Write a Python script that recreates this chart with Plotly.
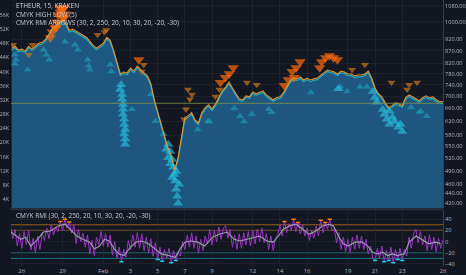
import plotly.graph_objects as go

# ---------------- data ----------------
# ETHEUR close, 6-hour samples; day 0 = 2018-01-26 00:00
price_start_day = -0.75
price_step_day = 0.25
price = [875, 883, 867, 871, 863, 883, 871, 883, 896, 900,
         913, 936, 962, 972, 990, 1000, 986, 953, 958, 949,
         940, 931, 922, 905, 887, 875, 887, 896, 922, 909,
         867, 822, 773, 780, 777, 795, 784, 803, 788, 777,
         766, 737, 683, 645, 611, 570, 543, 523, 488, 517,
         570, 627, 633, 642, 620, 611, 642, 658, 667, 654,
         669, 693, 713, 726, 744, 723, 703, 686, 683, 696,
         693, 709, 703, 709, 713, 699, 690, 683, 690, 693,
         706, 726, 748, 758, 755, 762, 751, 758, 751, 755,
         758, 769, 780, 788, 784, 780, 773, 784, 780, 773,
         773, 766, 769, 769, 773, 784, 758, 723, 703, 693,
         673, 658, 664, 673, 670, 664, 690, 699, 693, 686,
         680, 690, 696, 690, 693, 683, 677, 676.72]
price_day = [price_start_day + i * price_step_day for i in range(len(price))]

# RMI arrows (sell = down, buy = up)
sell_strong_day = [2.46, 2.60, 2.68, 2.82, 2.97, 3.04, 3.18, 2.24, 2.10, 2.53, 3.11, 2.82, 3.11,
                   8.61, 19.90, 20.19, 20.48, 20.04, 19.61, 19.32,
                   22.07, 22.36, 22.65, 22.94, 23.23, 21.92, 14.62, 14.98, 15.27, 15.56]
sell_strong_price = [972, 1000, 1034, 1049, 1059, 1019, 1039, 953, 927, 972, 1069, 1069, 1019,
                     834, 788, 803, 826, 766, 758, 737,
                     826, 842, 850, 842, 834, 803, 748, 766, 780, 803]
sell_weak_day = [-0.65, 0.80, 5.57, 6.08, 6.22, 8.97, 8.83, 12.23, 12.37, 12.08, 11.94, 12.52,
                 16.57, 17.29, 24.31, 25.25, 27.21, 28.36, 28.51, 29.09, 14.25, 14.54, 0.51]
sell_weak_price = [896, 896, 940, 953, 962, 814, 788, 723, 690, 658, 627, 706,
                   748, 740, 795, 814, 748, 723, 740, 748, 699, 723, 854]
buy_strong_day = [10.78, 10.93, 11.07, 11.14, 11.22, 11.29, 11.36, 11.43, 11.50, 10.93, 11.07, 10.78,
                  11.36, 11.58, 10.64,
                  7.31, 7.38, 7.45, 7.45, 7.53, 7.53, 7.60, 7.24, 7.38, 7.45, 7.53, 7.60, 7.60,
                  25.83, 25.98, 26.12, 26.56, 26.70, 26.85, 27.06, 27.28, 27.42, 27.71, 27.86,
                  28.00, 27.06, 23.30]
buy_strong_price = [556, 537, 517, 498, 481, 466, 448, 433, 419, 506, 474, 522,
                    488, 459, 543,
                    740, 706, 673, 642, 611, 584, 556, 723, 690, 658, 627, 597, 570,
                    716, 696, 680, 657, 642, 627, 612, 633, 620, 603, 612,
                    591, 651, 726]
buy_weak_day = [-0.51, -0.43, -0.51, 0.43, 1.59, 1.81, 2.03, 3.18, 3.91, 4.12, 4.85, 4.92, 4.99,
                6.51, 6.58, 8.10, 9.48, 9.84, 10.42, 12.95, 13.68, 13.82, 15.63, 16.06,
                16.35, 16.93, 18.16, 18.38, 21.27, 23.45, 23.95, 24.89, 25.40, 29.23,
                29.81, 28.65, 29.38]
buy_weak_price = [854, 834, 818, 795, 875, 854, 834, 909, 896, 875, 834, 810, 795,
                  814, 788, 658, 706, 621, 584, 597, 620, 620, 661, 636,
                  620, 642, 658, 648, 713, 733, 716, 733, 733, 648,
                  636, 663, 651]

# CMYK RMI raw (4-hour samples) and its signal line
rmi_start_day = -5 / 6
rmi_step_day = 1 / 6
rmi = [28, 5, 22, -8, 14,
       -12, 18, -5, 20, -15, 6,
       -20, 10, -14, 16, 2, 24,
       5, 30, 12, 26, 18, 36,
       20, 40, 24, 35, 15, 30,
       -4, 22, 0, 15, -10, 12,
       -22, 2, -25, 8, -6, 18,
       -8, 14, -10, 12, -24, 0,
       -30, -10, -36, -14, -28, 2,
       -15, 12, -10, 16, -12, 14,
       -16, 8, -20, 5, -26, -2,
       -32, -10, -35, -14, -30, -12,
       -38, -16, -34, -20, -26, 0,
       -14, 12, -10, 16, -12, 10,
       -20, 4, -16, 10, -4, 22,
       -6, 20, 0, 26, 4, 24,
       28, 6, 22, -10, 12, -14,
       14, -12, 16, -6, 18, -8,
       20, -4, 22, 0, 24, -2,
       14, -14, 10, -16, 6, 12,
       30, 10, 36, 16, 32, 20,
       40, 18, 34, 14, 30, 10,
       24, 2, 20, 6, 28, 10,
       38, 16, 34, 22, 40, 20,
       22, -2, 16, -14, 8, -18,
       4, -20, 8, -14, 12, -12,
       10, -14, 4, -22, -8, -30,
       -34, -12, -30, -8, -36, -16,
       -34, -10, -38, -14, -32, -12,
       -34, -14, -26, 8, -12, 14,
       22, -2, 18, -6, 10, -16,
       12, -14, 8, -18, 6, -12,
       4]
rmi_day = [rmi_start_day + i * rmi_step_day for i in range(len(rmi))]

sig_day = [-0.80, -0.65, -0.07, 0.29, 0.65, 1.16, 1.59, 2.10, 2.68, 3.18, 3.55, 4.05, 4.49, 4.99,
           5.35, 5.72, 6.08, 6.44, 6.80, 7.16, 7.53, 7.89, 8.39, 8.83, 9.33, 9.84, 10.27, 10.78,
           11.29, 11.65, 12.01, 12.45, 12.95, 13.46, 14.04, 14.54, 15.12, 15.63, 16.06, 16.57,
           17.08, 17.51, 18.02, 18.52, 18.89, 19.25, 19.68, 20.19, 20.69, 21.13, 21.64, 22.14,
           22.58, 22.94, 23.30, 23.66, 24.02, 24.53, 25.04, 25.47, 25.83, 26.19, 26.56, 26.92,
           27.28, 27.64, 28.15, 28.51, 29.02, 29.45, 29.96, 30.46, 30.82]
sig = [17, 14, 4, 8, -8, 4, 17, 19, 28, 31, 22, 10, 4, -1,
       -13, -8, 4, 1, -13, -22, -25, -13, -1, 1, -4, -13, -22, -25,
       -28, -13, -1, 1, -1, -8, 8, 13, 17, 4, 1, 4,
       8, 10, 1, -1, 10, 22, 28, 31, 22, 13, 19, 28,
       31, 28, 10, -4, -8, -1, -1, -8, -19, -22, -19, -25,
       -22, -25, -22, -1, 10, 4, -4, -1, -4]

rmi_levels_upper = [30, 20]
rmi_levels_lower = [-20, -30]

tick_days = [0, 3, 6, 8, 10, 12, 14, 17, 19, 21, 24, 26, 28, 31]
tick_text = ["26", "29", "Feb", "3", "5", "7", "9", "12", "14", "16", "19", "21", "23", "26"]
price_ticks = [420, 440, 460, 490, 520, 550, 580, 620, 660, 700, 740, 780, 820, 870, 920, 1000, 1080]
vol_ticks = [4, 8, 12, 16, 20, 24, 28, 32, 36, 40, 44, 48, 52, 56, 60]

# ---------------- figure ----------------
BG = "#131722"
GRID = "rgba(42,46,57,0.45)"
TXT = "#b2b5be"
p_lo, p_hi = 2.6117, 3.0457
shift = 0.0033

fig = go.Figure()

# volume scale (left axis only)
fig.add_trace(go.Scatter(x=[price_day[0], price_day[-1]], y=[vol_ticks[0], vol_ticks[-1]],
                         xaxis="x2", yaxis="y3", mode="markers", opacity=0,
                         hoverinfo="skip"))

fig.add_trace(go.Scatter(
    x=price_day, y=price, xaxis="x2", yaxis="y", mode="lines",
    line=dict(color="#22a7bd", width=1.3), fill="tozeroy",
    fillgradient=dict(type="vertical",
                      colorscale=[[0, "#14384f"], [1, "#1f5882"]]),
    hoverinfo="skip"))
fig.add_trace(go.Scatter(
    x=price_day, y=price, xaxis="x2", yaxis="y4", mode="lines",
    line=dict(color="#e39530", width=1.1), hoverinfo="skip"))

def tri(xs, ys, sym, color, size):
    fig.add_trace(go.Scatter(
        x=xs, y=ys, xaxis="x2", yaxis="y", mode="markers",
        marker=dict(symbol=sym, size=size, color=color, line=dict(width=0)),
        hoverinfo="skip"))

tri(sell_weak_day, sell_weak_price, "triangle-down", "rgba(200,120,30,0.7)", 7)
tri(buy_weak_day, buy_weak_price, "triangle-up", "rgba(32,150,180,0.7)", 7)
tri(buy_strong_day, buy_strong_price, "triangle-up", "rgba(40,200,230,0.6)", 9)
tri(sell_strong_day, sell_strong_price, "triangle-down", "rgba(255,105,10,0.7)", 10)

# RMI pane
fig.add_trace(go.Scatter(
    x=rmi_day, y=rmi, xaxis="x", yaxis="y2", mode="lines",
    line=dict(color="#9a35c4", width=1), hoverinfo="skip"))
hot = [v if v >= 34 else None for v in rmi]
cold = [v if v <= -32 else None for v in rmi]
fig.add_trace(go.Scatter(x=rmi_day, y=hot, xaxis="x", yaxis="y2", mode="markers",
                         marker=dict(size=3, color="#ff7a10", symbol="line-ew-open",
                                     line=dict(color="#ff7a10", width=1.5)),
                         hoverinfo="skip"))
fig.add_trace(go.Scatter(x=rmi_day, y=cold, xaxis="x", yaxis="y2", mode="markers",
                         marker=dict(size=3, color="#1cc8ea", symbol="line-ew-open",
                                     line=dict(color="#1cc8ea", width=1.5)),
                         hoverinfo="skip"))
fig.add_trace(go.Scatter(
    x=sig_day, y=sig, xaxis="x", yaxis="y2", mode="lines",
    line=dict(color="#9aa0a8", width=1.1), hoverinfo="skip"))

shapes = []
for lv in rmi_levels_upper:
    shapes.append(dict(type="line", xref="paper", x0=0, x1=1, yref="y2", y0=lv, y1=lv,
                       line=dict(color="rgba(200,120,30,0.75)", width=1), layer="below"))
for lv in rmi_levels_lower:
    shapes.append(dict(type="line", xref="paper", x0=0, x1=1, yref="y2", y0=lv, y1=lv,
                       line=dict(color="rgba(30,150,165,0.75)", width=1), layer="below"))
shapes.append(dict(type="line", xref="paper", x0=0, x1=1, yref="y", y0=price[-1], y1=price[-1],
                   line=dict(color="rgba(130,150,70,0.8)", width=1)))
shapes.append(dict(type="line", xref="paper", x0=0, x1=1, yref="paper", y0=0.2135, y1=0.2135,
                   line=dict(color="#2a2e39", width=2)))

annotations = [
    dict(xref="paper", yref="paper", x=0.008, y=0.978, xanchor="left", yanchor="middle",
         text="ETHEUR, 15, KRAKEN", showarrow=False, font=dict(size=6.5, color="#d1d4dc")),
    dict(xref="paper", yref="paper", x=0.008, y=0.945, xanchor="left", yanchor="middle",
         text="CMYK HIGH LOW (5)", showarrow=False, font=dict(size=6.5, color="#c8cbd3")),
    dict(xref="paper", yref="paper", x=0.008, y=0.914, xanchor="left", yanchor="middle",
         text="CMYK RMI ARROWS (30, 2, 250, 20, 10, 30, 20, -20, -30)", showarrow=False,
         font=dict(size=6.5, color="#c8cbd3")),
    dict(xref="paper", yref="paper", x=0.008, y=0.191, xanchor="left", yanchor="middle",
         text="CMYK RMI (30, 2, 250, 20, 10, 30, 20, -20, -30)", showarrow=False,
         font=dict(size=6.5, color="#c8cbd3")),
    dict(xref="paper", yref="y", x=1.0, y=price[-1], xanchor="left", yanchor="middle",
         text="%.2f" % price[-1], showarrow=False, bgcolor="#3da56a",
         font=dict(size=6, color="#ffffff"), borderpad=1, xshift=1),
]

fig.update_layout(
    width=466, height=275, margin=dict(l=10, r=17, t=0, b=8),
    paper_bgcolor=BG, plot_bgcolor=BG, showlegend=False,
    font=dict(family="Open Sans", color=TXT),
    shapes=shapes, annotations=annotations,
    xaxis=dict(domain=[0, 1], anchor="y2", range=[-0.796, 31.0],
               tickvals=tick_days, ticktext=tick_text, tickfont=dict(size=6, color=TXT),
               showgrid=True, gridcolor=GRID, zeroline=False, ticks="", ticklen=0,
               showline=False),
    xaxis2=dict(domain=[0, 1], anchor="y", matches="x", showticklabels=False,
                tickvals=tick_days, showgrid=True, gridcolor=GRID, zeroline=False, ticks=""),
    yaxis=dict(domain=[0.2172, 1], anchor="x2", side="right", type="log",
               range=[p_lo, p_hi], tickvals=price_ticks,
               ticktext=["%.2f" % v for v in price_ticks],
               tickfont=dict(size=5.6, color=TXT), showgrid=True, gridcolor=GRID,
               zeroline=False, ticks="", showline=True, linecolor="#3a3e4a", linewidth=1),
    yaxis2=dict(domain=[0, 0.2097], anchor="x", side="right", range=[-43.6, 56],
                tickvals=[-40, -20, 0, 20, 40], tickfont=dict(size=5.6, color=TXT),
                showgrid=True, gridcolor=GRID, zeroline=False, ticks="",
                showline=True, linecolor="#3a3e4a", linewidth=1),
    yaxis3=dict(overlaying="y", anchor="x2", side="left", range=[1.43, 60.3],
                tickvals=vol_ticks, ticktext=["%dK" % v for v in vol_ticks],
                tickfont=dict(size=5.2, color=TXT), showgrid=False, zeroline=False,
                ticks="", showline=True, linecolor="#0d1018", linewidth=1),
    yaxis4=dict(overlaying="y", anchor="x2", type="log", range=[p_lo - shift, p_hi - shift],
                visible=False),
)

fig.write_html("out.html")
